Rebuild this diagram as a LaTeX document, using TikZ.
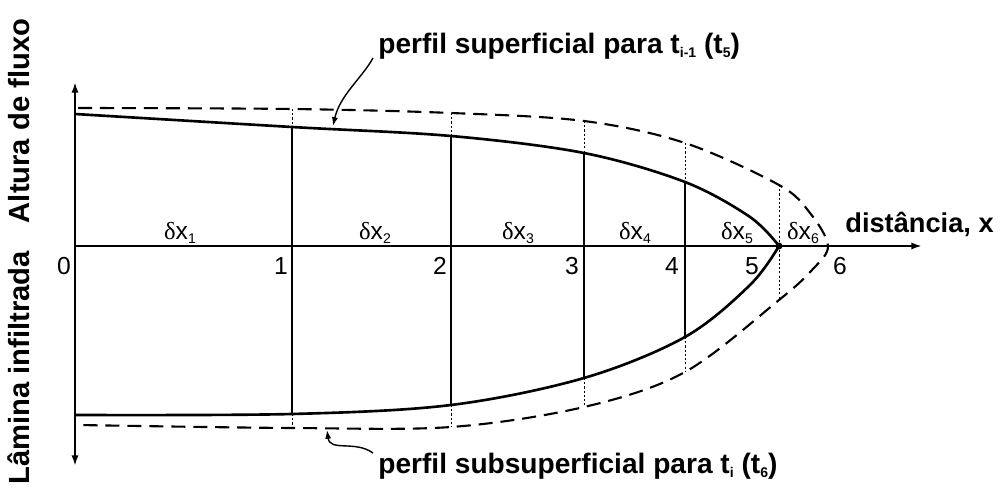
\documentclass[tikz,border=0pt]{standalone}
\usepackage{fontspec}
\setmainfont{Liberation Sans}
\newfontfamily\deltafont{Liberation Serif}
\usepackage{tikz}
\usetikzlibrary{positioning}
\usetikzlibrary{calc,arrows.meta}

\newcommand{\dx}[1]{{\deltafont δ}x\raisebox{-0.25ex}{\fontsize{8}{9}\selectfont #1}}
\newcommand{\tsub}[1]{\raisebox{-0.3ex}{\fontsize{8}{9}\selectfont #1}}

\begin{document}
\begin{tikzpicture}[
    x=0.02cm, y=-0.02cm, % pixel grid of the figure, y downwards
    font=\fontsize{14}{16}\selectfont,
    >=latex
  ]

  % Style definitions
  \tikzset{
    axis/.style={line width=1.2pt, black},
    profile/.style={line width=1.5pt, black},
    previous/.style={line width=1.2pt, black, dash pattern=on 8pt off 4.5pt},
    guide/.style={line width=0.5pt, black, dash pattern=on 1.2pt off 1.2pt},
    tag/.style={font=\fontsize{16}{18}\selectfont\bfseries, anchor=west, inner sep=0pt},
    ytag/.style={tag, font=\fontsize{16.6}{19}\selectfont\bfseries, anchor=center, rotate=90},
    pointer/.style={line width=0.8pt, -{Latex[length=5pt, width=3.5pt]}},
    tick/.style={inner sep=0pt}
  }

  \useasboundingbox (0,0) rectangle (1000,489);

  % Axes
  \coordinate (org)  at (75,246);
  \coordinate (ytop) at (75,82);
  \coordinate (ybot) at (75,466);
  \coordinate (xend) at (922,246);
  \draw[axis, {Latex[length=6pt, width=4pt]}-{Latex[length=6pt, width=4pt]}] (ybot) -- (ytop);
  \draw[axis, -{Latex[length=6pt, width=4pt]}] (org) -- (xend);

  % Surface profile (solid) and infiltrated profile (solid)
  \coordinate (s0) at (75,114);
  \coordinate (s1) at (292,127);
  \coordinate (s2) at (451,136);
  \coordinate (s3) at (584,153);
  \coordinate (s4) at (685,182);
  \coordinate (sm) at (750,217);
  \coordinate (s5) at (779,246);
  \coordinate (b0) at (75,415);
  \coordinate (b1) at (292,414);
  \coordinate (b2) at (451,405);
  \coordinate (b3) at (584,378);
  \coordinate (b4) at (685,337);
  \coordinate (bm) at (750,285);

  % Previous time step (dashed)
  \coordinate (d0) at (78,108);
  \coordinate (d1) at (292,109);
  \coordinate (d2) at (451,113);
  \coordinate (d3) at (584,121);
  \coordinate (d4) at (685,143);
  \coordinate (d5) at (779,185);
  \coordinate (dm) at (810,213);
  \coordinate (d6) at (828,246);
  \coordinate (em) at (812,270);
  \coordinate (e5) at (779,300);
  \coordinate (e4) at (685,372);
  \coordinate (e3) at (584,407);
  \coordinate (e2) at (451,427);
  \coordinate (e1) at (292,428);
  \coordinate (e0) at (78,425);

  \draw[profile] plot[smooth, tension=0.55] coordinates {(s0) (s1) (s2) (s3) (s4) (sm) (s5)};
  \draw[profile] plot[smooth, tension=0.55] coordinates {(b0) (b1) (b2) (b3) (b4) (bm) (s5)};
  \draw[previous] plot[smooth, tension=0.55] coordinates {(d0) (d1) (d2) (d3) (d4) (d5) (dm) (d6) (em) (e5) (e4) (e3) (e2) (e1) (e0)};

  % Cell walls
  \foreach \i in {1,...,4} {
    \draw[profile] (s\i) -- (b\i);
  }
  \foreach \i in {1,...,5} {
    \draw[guide] (d\i) -- (s\i);
  }
  \foreach \i in {1,...,4} {
    \draw[guide] (b\i) -- (e\i);
  }
  \draw[guide] (s5) -- (e5);
  \fill (s5) circle (2pt);

  % Cell widths
  \node (dx1) at (180,233) {\dx{1}};
  \node (dx2) at (375,233) {\dx{2}};
  \node (dx3) at (518,233) {\dx{3}};
  \node (dx4) at (635,233) {\dx{4}};
  \node (dx5) at (737,233) {\dx{5}};
  \node (dx6) at (803,233) {\dx{6}};

  % Node numbers
  \node[tick] (n0) at (64,266) {0};
  \node[tick] (n1) at (281,266) {1};
  \node[tick] (n2) at (440,266) {2};
  \node[tick] (n3) at (572,266) {3};
  \node[tick] (n4) at (672,266) {4};
  \node[tick] (n5) at (752,266) {5};
  \node[tick] (n6) at (840,266) {6};

  % Axis titles
  \node[ytag] (alt) at (19,121) {Altura de fluxo};
  \node[ytag] (lam) at (19,368) {Lâmina infiltrada};
  \node[tag, font=\fontsize{15.5}{18}\selectfont\bfseries] (dist) at (845,224) {distância, x};

  % Profile labels
  \node[tag] (sup) at (378,46) {perfil superficial para t\tsub{i-1} (t\tsub{5})};
  \node[tag] (sub) at (378,466) {perfil subsuperficial para t\tsub{i} (t\tsub{6})};
  \coordinate (supfrom) at (373,58);
  \coordinate (supto)   at (333,126);
  \coordinate (subfrom) at (373,453);
  \coordinate (subto)   at (327,430);
  \draw[pointer] (supfrom) .. controls (362,78) and (340,95) .. (supto);
  \draw[pointer] (subfrom) .. controls (355,440) and (330,452) .. (subto);

\end{tikzpicture}
\end{document}
